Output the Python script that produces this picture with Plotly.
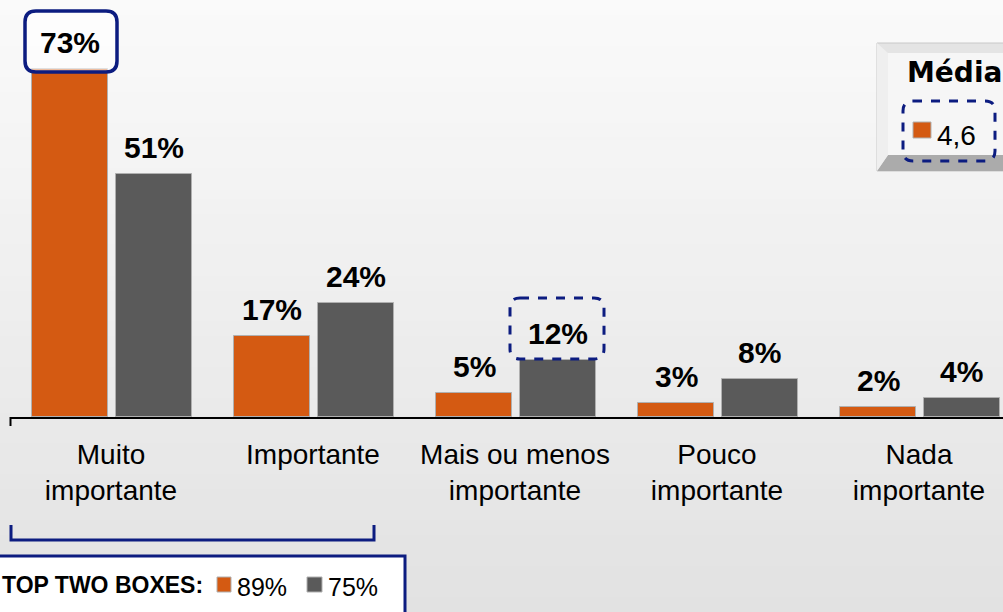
import plotly.graph_objects as go

# dados
categorias = ["Muito<br>importante", "Importante", "Mais ou menos<br>importante",
              "Pouco<br>importante", "Nada<br>importante"]
serie_laranja = [73, 17, 5, 3, 2]
serie_cinza = [51, 24, 12, 8, 4]
media_laranja = "4,6"
top_two_laranja = "89%"
top_two_cinza = "75%"

LARANJA = "#d45a12"
CINZA = "#5a5a5a"
AZUL = "#0c1c80"
FONTE = "Liberation Sans, Arial, sans-serif"

W, H = 1003, 612
ML, MR, MT, MB = 10, 0, 0, 195
PW, PH = W - ML - MR, H - MT - MB


# pixel -> paper
def px(x):
    return (x - ML) / PW


def py(y):
    return (H - MB - y) / PH


def rounded_rect(x0, y0, x1, y1, r):
    # retângulo com cantos arredondados (pixels) em coordenadas paper
    pts = [
        f"M {px(x0 + r)},{py(y0)}",
        f"L {px(x1 - r)},{py(y0)}",
        f"Q {px(x1)},{py(y0)} {px(x1)},{py(y0 + r)}",
        f"L {px(x1)},{py(y1 - r)}",
        f"Q {px(x1)},{py(y1)} {px(x1 - r)},{py(y1)}",
        f"L {px(x0 + r)},{py(y1)}",
        f"Q {px(x0)},{py(y1)} {px(x0)},{py(y1 - r)}",
        f"L {px(x0)},{py(y0 + r)}",
        f"Q {px(x0)},{py(y0)} {px(x0 + r)},{py(y0)}",
        "Z",
    ]
    return " ".join(pts)


def rect(x0, y0, x1, y1, fill, line=None, lw=0, layer="above"):
    return dict(type="rect", xref="paper", yref="paper",
                x0=px(x0), x1=px(x1), y0=py(y1), y1=py(y0),
                fillcolor=fill, line=dict(color=line or fill, width=lw),
                layer=layer)


largura = 0.375
off_l, off_c = -0.39, 0.025

fig = go.Figure()
fig.add_trace(go.Bar(x=list(range(5)), y=serie_laranja, width=largura, offset=off_l,
                     marker=dict(color=LARANJA, line=dict(color="#b0b0b0", width=1)),
                     hoverinfo="y"))
fig.add_trace(go.Bar(x=list(range(5)), y=serie_cinza, width=largura, offset=off_c,
                     marker=dict(color=CINZA, line=dict(color="#b0b0b0", width=1)),
                     hoverinfo="y"))

shapes = []
# fundo em gradiente
n = 40
for i in range(n):
    t = i / (n - 1)
    c = int(round(250 - t * 24))
    y0 = H * i / n
    y1 = H * (i + 1) / n + 1
    shapes.append(rect(-20, y0, W + 20, y1, f"rgb({c},{c},{c})", layer="below"))

# tick esquerdo
shapes.append(dict(type="line", xref="paper", yref="paper", x0=px(10.5), x1=px(10.5),
                   y0=py(417), y1=py(426), line=dict(color="black", width=2)))

# caixa do 73%
shapes.append(dict(type="path", xref="paper", yref="paper",
                   path=rounded_rect(25, 11, 117, 72, 11),
                   fillcolor="rgba(255,255,255,0.6)", line=dict(color=AZUL, width=3.5)))
# caixa tracejada do 12%
shapes.append(dict(type="path", xref="paper", yref="paper",
                   path=rounded_rect(510, 298, 604, 359, 10),
                   fillcolor="rgba(0,0,0,0)", line=dict(color=AZUL, width=3, dash="dash")))

# caixa Média (efeito bisel)
shapes.append(rect(877, 43, 1012, 171, "#e4e4e4", "#c8c8c8", 1))
shapes.append(dict(type="path", xref="paper", yref="paper",
                   path=f"M {px(877)},{py(171)} L {px(888)},{py(155)} L {px(1012)},{py(155)} "
                        f"L {px(1012)},{py(171)} Z",
                   fillcolor="#ababab", line=dict(width=0)))
shapes.append(dict(type="path", xref="paper", yref="paper",
                   path=f"M {px(877)},{py(43)} L {px(888)},{py(53)} L {px(888)},{py(155)} "
                        f"L {px(877)},{py(171)} Z",
                   fillcolor="#efefef", line=dict(width=0)))
shapes.append(rect(888, 53, 1012, 155, "#f6f6f6"))
shapes.append(dict(type="path", xref="paper", yref="paper",
                   path=rounded_rect(903, 101, 995, 161, 10),
                   fillcolor="rgba(0,0,0,0)", line=dict(color=AZUL, width=3, dash="dash")))
shapes.append(rect(913, 122, 931, 138, LARANJA, "#b0b0b0", 1))

# colchete top two
shapes.append(dict(type="path", xref="paper", yref="paper",
                   path=f"M {px(11)},{py(525)} L {px(11)},{py(540)} L {px(374)},{py(540)} "
                        f"L {px(374)},{py(525)}",
                   line=dict(color=AZUL, width=3)))
# caixa top two boxes
shapes.append(rect(-10, 556, 405, 630, "white", AZUL, 3))
shapes.append(rect(217, 577, 231, 592, LARANJA, "#b0b0b0", 1))
shapes.append(rect(307, 577, 322, 592, CINZA, "#b0b0b0", 1))

annotations = []
# rótulos das barras
for i, (vl, vc) in enumerate(zip(serie_laranja, serie_cinza)):
    annotations.append(dict(x=i + off_l + largura / 2, y=vl, xref="x", yref="y",
                            text=f"{vl}%", showarrow=False, yanchor="bottom", yshift=8,
                            font=dict(family=FONTE, size=30, color="black", weight="bold")))
    annotations.append(dict(x=i + off_c + largura / 2, y=vc, xref="x", yref="y",
                            text=f"{vc}%", showarrow=False, yanchor="bottom", yshift=8,
                            font=dict(family=FONTE, size=30, color="black", weight="bold")))

annotations.append(dict(x=px(905), y=py(72), xref="paper", yref="paper", text="Média",
                        showarrow=False, xanchor="left", yanchor="middle",
                        font=dict(family="DejaVu Sans, Verdana, sans-serif", size=28,
                                  color="black", weight="bold")))
annotations.append(dict(x=px(935), y=py(135), xref="paper", yref="paper", text=media_laranja,
                        showarrow=False, xanchor="left", yanchor="middle",
                        font=dict(family=FONTE, size=28, color="black")))
annotations.append(dict(x=px(0), y=py(585), xref="paper", yref="paper", text="TOP TWO BOXES:",
                        showarrow=False, xanchor="left", yanchor="middle",
                        font=dict(family=FONTE, size=23, color="black", weight="bold")))
annotations.append(dict(x=px(235), y=py(587), xref="paper", yref="paper", text=top_two_laranja,
                        showarrow=False, xanchor="left", yanchor="middle",
                        font=dict(family=FONTE, size=25, color="black")))
annotations.append(dict(x=px(326), y=py(587), xref="paper", yref="paper", text=top_two_cinza,
                        showarrow=False, xanchor="left", yanchor="middle",
                        font=dict(family=FONTE, size=25, color="black")))

fig.update_layout(
    width=W, height=H,
    margin=dict(l=ML, r=MR, t=MT, b=MB),
    paper_bgcolor="#eeeeee",
    plot_bgcolor="rgba(0,0,0,0)",
    showlegend=False,
    bargap=0,
    xaxis=dict(range=[-0.5, -0.5 + PW / 202], tickmode="array", tickvals=list(range(5)),
               ticktext=categorias, showline=True, linecolor="black", linewidth=2,
               showgrid=False, zeroline=False, ticks="", ticklabelstandoff=11,
               tickfont=dict(family=FONTE, size=28, color="black")),
    yaxis=dict(range=[0, PH / 4.77], visible=False, showgrid=False, zeroline=False),
    shapes=shapes,
    annotations=annotations,
)

fig.write_html("out.html", config={"displayModeBar": False},
               post_script="document.body.style.margin='0';document.body.style.overflow='hidden';")
